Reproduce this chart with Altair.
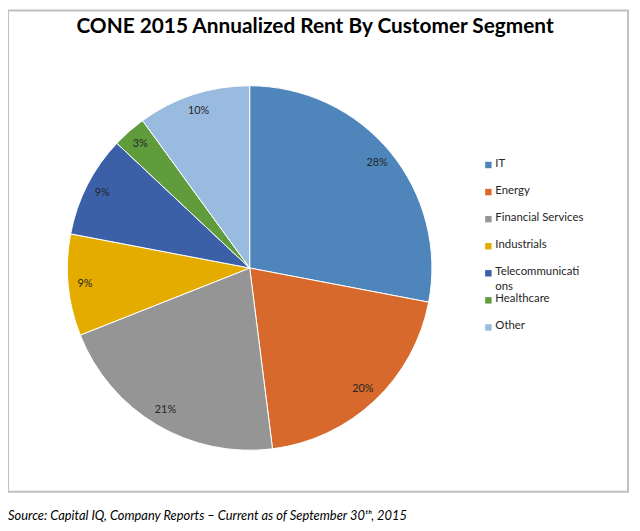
import altair as alt
import pandas as pd

categories = ["IT", "Energy", "Financial Services", "Industrials",
              "Telecommunications", "Healthcare", "Other"]
legend_labels = ["IT", "Energy", "Financial Services", "Industrials",
                 "Telecommunicati\nons", "Healthcare", "Other"]
values = [28, 20, 21, 9, 9, 3, 10]
colors = ["#4e86bc", "#d6692b", "#959595", "#e5ac00", "#3b60a8", "#609c3b", "#9abbe0"]

title_text = "CONE 2015 Annualized Rent By Customer Segment"
source_text = "Source: Capital IQ, Company Reports \u2013 Current as of September 30\u1d57\u02b0,  2015"

df = pd.DataFrame({
    "cat": categories,
    "legend": legend_labels,
    "value": values,
    "order": list(range(len(categories))),
    "label": [f"{v}%" for v in values],
})

FONT = "Lato"
cx, cy, R = 244, 260, 184

color = alt.Color("cat:N", scale=alt.Scale(domain=categories, range=colors), legend=None)
theta = alt.Theta("value:Q", stack=True)
order = alt.Order("order:Q")

base = alt.Chart(df)

pie = base.mark_arc(outerRadius=R, stroke="white", strokeWidth=1).encode(
    theta=theta, color=color, order=order,
    x=alt.value(cx), y=alt.value(cy),
)

labels = base.mark_text(font=FONT, fontSize=11, color="#262626").encode(
    theta=theta, order=order, text="label:N",
    radius=alt.value(167), x=alt.value(cx), y=alt.value(cy),
)

yleg = alt.Y("cat:N", scale=alt.Scale(domain=categories, range=[156, 320], type="point", padding=0), axis=None)

leg_sq = base.mark_square(size=42, opacity=1).encode(
    x=alt.value(485), y=yleg, color=color,
)
leg_txt = base.mark_text(font=FONT, fontSize=11.5, align="left", baseline="top", dy=-7,
                         lineBreak="\n", lineHeight=14.5, color="#262626").encode(
    x=alt.value(492), y=yleg, text="legend:N",
)

title = alt.Chart(pd.DataFrame({"t": [title_text]})).mark_text(
    font=FONT, fontSize=21, fontWeight="bold", color="black", align="center", baseline="middle"
).encode(x=alt.value(310), y=alt.value(17), text="t:N")

source = alt.Chart(pd.DataFrame({"t": [source_text]})).mark_text(
    font=FONT, fontSize=13, fontStyle="italic", color="black", align="left", baseline="middle"
).encode(x=alt.value(0), y=alt.value(510), text="t:N")

chart = alt.layer(pie, labels, leg_sq, leg_txt, title, source).properties(
    width=626, height=486,
    autosize=alt.AutoSizeParams(type="none"),
    padding={"left": 0, "top": 0, "right": 4, "bottom": 36},
).configure_view(stroke="#c0c0c0", strokeWidth=2)

chart.save("out.html", embed_options={"renderer": "svg", "actions": False})
